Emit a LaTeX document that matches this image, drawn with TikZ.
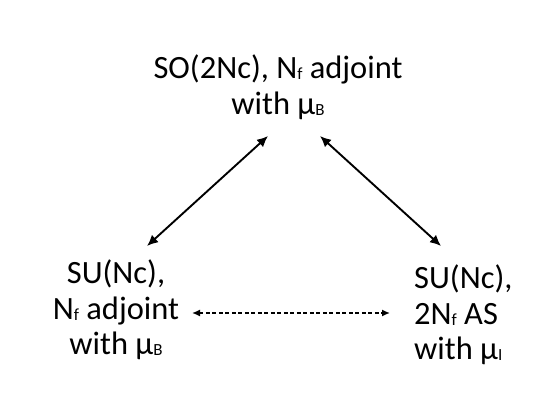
\documentclass[tikz,border=0pt]{standalone}
\usepackage{fontspec}
\setmainfont{Carlito}
\usetikzlibrary{arrows.meta}
\newcommand{\smallsub}[1]{\raisebox{-1pt}{\fontsize{17}{17}\selectfont #1}}
\tikzset{
  lbl/.style={font=\fontsize{32.5}{35.5}\selectfont, inner sep=0pt},
  biarrow/.style={{Latex[length=11pt,width=10pt]}-{Latex[length=11pt,width=10pt]}, line width=1.9pt},
}
\begin{document}
\begin{tikzpicture}[x=1pt,y=-1pt]
\useasboundingbox (0,0) rectangle (545,409);
\node[lbl, align=center] (top) at (278,87) {SO(2Nc), N\smallsub{f} adjoint\\with μ\smallsub{B}};
\node[lbl, align=center] (left) at (116,310) {SU(Nc),\\N\smallsub{f} adjoint\\with μ\smallsub{B}};
\node[lbl, align=left, anchor=west] (right) at (414,315) {SU(Nc),\\2N\smallsub{f} AS\\with μ\smallsub{I}};
\coordinate (a1) at (147,246);
\coordinate (a2) at (268,136);
\coordinate (b1) at (320,136);
\coordinate (b2) at (441,246);
\coordinate (c1) at (192,313);
\coordinate (c2) at (390,313);
\draw[biarrow] (a1) -- (a2);
\draw[biarrow] (b1) -- (b2);
\draw[{Latex[length=8pt,width=7pt]}-{Latex[length=8pt,width=7pt]}, dash pattern=on 4pt off 2.5pt, line width=1.5pt] (c1) -- (c2);
\end{tikzpicture}
\end{document}
